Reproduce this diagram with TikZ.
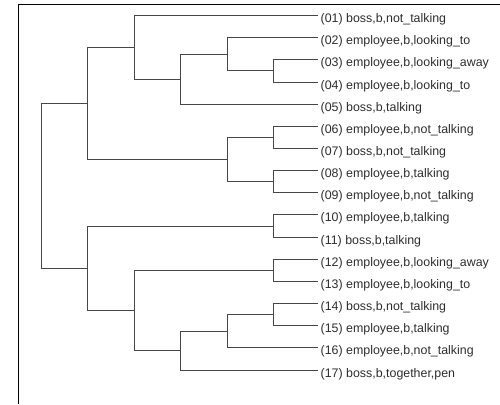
\documentclass[tikz,border=0pt]{standalone}
\usepackage{fontspec}
\setmainfont{Liberation Sans}
\usepackage{tikz}
\usetikzlibrary{positioning}
\definecolor{treegray}{RGB}{70,70,70}
\definecolor{labelgray}{RGB}{45,45,45}

\begin{document}
\begin{tikzpicture}[x=1pt, y=-1pt,
        leaf/.style={anchor=west, inner sep=2.5pt, text height=14pt, text depth=0pt, text=labelgray, font=\fontsize{12.4}{14}\selectfont},
        branch/.style={draw=treegray, line width=1pt}]
        \useasboundingbox (0,0) rectangle (500,404);
        \draw [black, line width=1pt] (18.5,404) -- (18.5,5) -- (500,5);

        \node (leaf1) [leaf] at (318,15.5) {(01) boss,b,not\_talking};
        \node (leaf2) [leaf] at (318,37.7) {(02) employee,b,looking\_to};
        \node (leaf3) [leaf] at (318,59.8) {(03) employee,b,looking\_away};
        \node (leaf4) [leaf] at (318,82.0) {(04) employee,b,looking\_to};
        \node (leaf5) [leaf] at (318,104.1) {(05) boss,b,talking};
        \node (leaf6) [leaf] at (318,126.3) {(06) employee,b,not\_talking};
        \node (leaf7) [leaf] at (318,148.5) {(07) boss,b,not\_talking};
        \node (leaf8) [leaf] at (318,170.6) {(08) employee,b,talking};
        \node (leaf9) [leaf] at (318,192.8) {(09) employee,b,not\_talking};
        \node (leaf10) [leaf] at (318,214.9) {(10) employee,b,talking};
        \node (leaf11) [leaf] at (318,237.1) {(11) boss,b,talking};
        \node (leaf12) [leaf] at (318,259.3) {(12) employee,b,looking\_away};
        \node (leaf13) [leaf] at (318,281.4) {(13) employee,b,looking\_to};
        \node (leaf14) [leaf] at (318,303.6) {(14) boss,b,not\_talking};
        \node (leaf15) [leaf] at (318,325.7) {(15) employee,b,talking};
        \node (leaf16) [leaf] at (318,347.9) {(16) employee,b,not\_talking};
        \node (leaf17) [leaf] at (318,370.1) {(17) boss,b,together,pen};

        \coordinate (n0304) at (273,70.9);
        \coordinate (n0204) at (227,54.3);
        \coordinate (n0205) at (180,79.2);
        \coordinate (n0105) at (134,47.4);
        \coordinate (n0607) at (273,137.4);
        \coordinate (n0809) at (273,181.7);
        \coordinate (n0609) at (227,159.6);
        \coordinate (n0109) at (87,103.5);
        \coordinate (n1011) at (273,226.0);
        \coordinate (n1213) at (273,270.4);
        \coordinate (n1415) at (273,314.7);
        \coordinate (n1416) at (227,331.3);
        \coordinate (n1417) at (180,350.7);
        \coordinate (n1217) at (134,310.6);
        \coordinate (n1017) at (87,268.3);
        \coordinate (root) at (41,185.9);

\draw [branch] (root) |- (n0109);
\draw [branch] (root) |- (n1017);

\draw [branch] (n0109) |- (n0105);
\draw [branch] (n0109) |- (n0609);

\draw [branch] (n0105) |- (leaf1);
\draw [branch] (n0105) |- (n0205);

\draw [branch] (n0205) |- (n0204);
\draw [branch] (n0205) |- (leaf5);

\draw [branch] (n0204) |- (leaf2);
\draw [branch] (n0204) |- (n0304);

\draw [branch] (n0304) |- (leaf3);
\draw [branch] (n0304) |- (leaf4);

\draw [branch] (n0609) |- (n0607);
\draw [branch] (n0609) |- (n0809);

\draw [branch] (n0607) |- (leaf6);
\draw [branch] (n0607) |- (leaf7);

\draw [branch] (n0809) |- (leaf8);
\draw [branch] (n0809) |- (leaf9);

\draw [branch] (n1017) |- (n1011);
\draw [branch] (n1017) |- (n1217);

\draw [branch] (n1011) |- (leaf10);
\draw [branch] (n1011) |- (leaf11);

\draw [branch] (n1217) |- (n1213);
\draw [branch] (n1217) |- (n1417);

\draw [branch] (n1213) |- (leaf12);
\draw [branch] (n1213) |- (leaf13);

\draw [branch] (n1417) |- (n1416);
\draw [branch] (n1417) |- (leaf17);

\draw [branch] (n1416) |- (n1415);
\draw [branch] (n1416) |- (leaf16);

\draw [branch] (n1415) |- (leaf14);
\draw [branch] (n1415) |- (leaf15);
    \end{tikzpicture}
\end{document}
